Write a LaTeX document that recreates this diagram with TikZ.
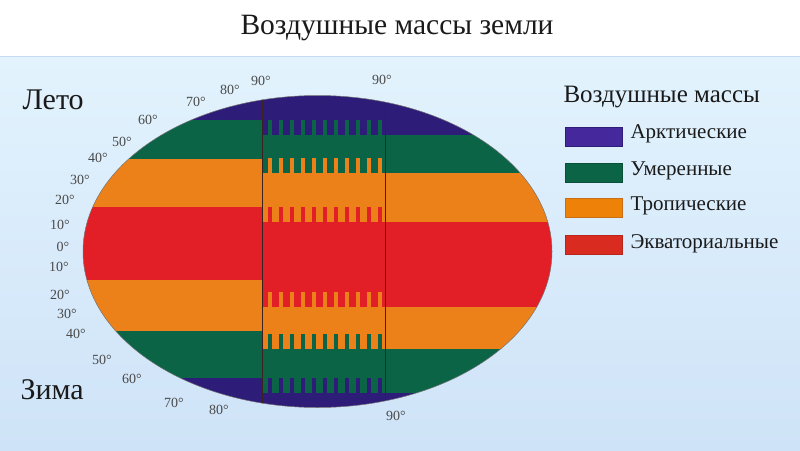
\documentclass[tikz,border=0pt]{standalone}
\usepackage{fontspec}
\setmainfont{Liberation Serif}
\definecolor{pur}{HTML}{2E1D78}
\definecolor{grn}{HTML}{0B6446}
\definecolor{org}{HTML}{EC8119}
\definecolor{rd}{HTML}{E21F26}
\definecolor{lpur}{HTML}{44289C}
\definecolor{lgrn}{HTML}{0B6446}
\definecolor{lorg}{HTML}{EE8208}
\definecolor{lrd}{HTML}{D92B1F}
\definecolor{bgtop}{HTML}{E2F3FD}
\definecolor{bgbot}{HTML}{CFE3F8}
\definecolor{bgline}{HTML}{C4DDF2}
\definecolor{txt}{HTML}{1A1A1A}
\definecolor{deg}{HTML}{4A4A4A}
\definecolor{divc}{HTML}{3A2222}
\begin{document}
\begin{tikzpicture}[x=1pt,y=-1pt,
  titletext/.style={font=\fontsize{29.5}{32}\selectfont, text=txt},
  seasontext/.style={font=\fontsize{30}{33}\selectfont, text=txt, anchor=west},
  legtitle/.style={font=\fontsize{25}{28}\selectfont, text=txt, anchor=west},
  legtext/.style={font=\fontsize{21}{24}\selectfont, text=txt, anchor=west},
  degtext/.style={font=\fontsize{14}{15}\selectfont, text=deg, inner sep=0pt},
  legbox/.style={minimum width=57pt, minimum height=19pt, inner sep=0pt, line width=0.6pt},
  divline/.style={draw=divc, line width=0.8pt}]
\useasboundingbox (0,0) rectangle (800,450);
% background
\fill[white] (0,0) rectangle (800,56);
\shade[top color=bgtop, bottom color=bgbot] (0,56) rectangle (800,450);
\draw[bgline, line width=1.5pt] (0,56.5) -- (800,56.5);
% title
\node[titletext] (title) at (397,28) {Воздушные массы земли};
% ellipse bands
\begin{scope}
  \clip (317.5,251.5) ellipse [x radius=234.5pt, y radius=156pt];
  % right and middle base
  \fill[pur] (262,90) rectangle (560,135);
  \fill[grn] (262,135) rectangle (560,173);
  \fill[org] (262,173) rectangle (560,222);
  \fill[rd]  (262,222) rectangle (560,307);
  \fill[org] (262,307) rectangle (560,349);
  \fill[grn] (262,349) rectangle (560,393);
  \fill[pur] (262,393) rectangle (560,412);
  % combs in the middle
  \foreach \yb/\c in {135/grn, 173/org, 222/rd, 307/org, 349/grn, 393/pur}{
    \foreach \k in {0,...,10}{
      \fill[\c] ({268+11*\k},{\yb-15}) rectangle ({272+11*\k},{\yb+0.5});
    }
  }
  % left part
  \fill[pur] (80,90) rectangle (262,120);
  \fill[grn] (80,120) rectangle (262,159);
  \fill[org] (80,159) rectangle (262,207);
  \fill[rd]  (80,207) rectangle (262,280);
  \fill[org] (80,280) rectangle (262,331);
  \fill[grn] (80,331) rectangle (262,378);
  \fill[pur] (80,378) rectangle (262,412);
  % dividing lines
  \draw[divline] (262,90) -- (262,412);
  \draw[divline] (385,90) -- (385,412);
\end{scope}
\draw[black!55, line width=0.5pt] (317.5,251.5) ellipse [x radius=234.5pt, y radius=156pt];
% seasons
\node[seasontext] (leto) at (19,100) {Лето};
\node[seasontext] (zima) at (17,390) {Зима};
% degree labels, upper (summer)
\node[degtext] (u90) at (261,81) {90°};
\node[degtext] (u80) at (230,90) {80°};
\node[degtext] (u70) at (196,102) {70°};
\node[degtext] (u60) at (148,120) {60°};
\node[degtext] (u50) at (122,142) {50°};
\node[degtext] (u40) at (98,158) {40°};
\node[degtext] (u30) at (80,180) {30°};
\node[degtext] (u20) at (65,200) {20°};
\node[degtext] (u10) at (60,225) {10°};
\node[degtext] (u0)  at (63,247) {0°};
\node[degtext] (r90) at (382,80) {90°};
% degree labels, lower (winter)
\node[degtext] (l10) at (59,267) {10°};
\node[degtext] (l20) at (60,295) {20°};
\node[degtext] (l30) at (67,314) {30°};
\node[degtext] (l40) at (76,334) {40°};
\node[degtext] (l50) at (102,360) {50°};
\node[degtext] (l60) at (132,379) {60°};
\node[degtext] (l70) at (174,403) {70°};
\node[degtext] (l80) at (219,410) {80°};
\node[degtext] (b90) at (396,416) {90°};
% legend
\node[legtitle] (legt) at (560,97) {Воздушные массы};
\node[legbox, draw=pur, fill=lpur, anchor=west] (b1) at (565,136.5) {};
\node[legbox, draw=grn!80!black, fill=lgrn, anchor=west] (b2) at (565,172.5) {};
\node[legbox, draw=org!85!black, fill=lorg, anchor=west] (b3) at (565,208) {};
\node[legbox, draw=lrd!85!black, fill=lrd, anchor=west] (b4) at (565,245) {};
\node[legtext] (t1) at (627,134) {Арктические};
\node[legtext] (t2) at (627,171) {Умеренные};
\node[legtext] (t3) at (627,206) {Тропические};
\node[legtext] (t4) at (627,244) {Экваториальные};
\end{tikzpicture}
\end{document}
